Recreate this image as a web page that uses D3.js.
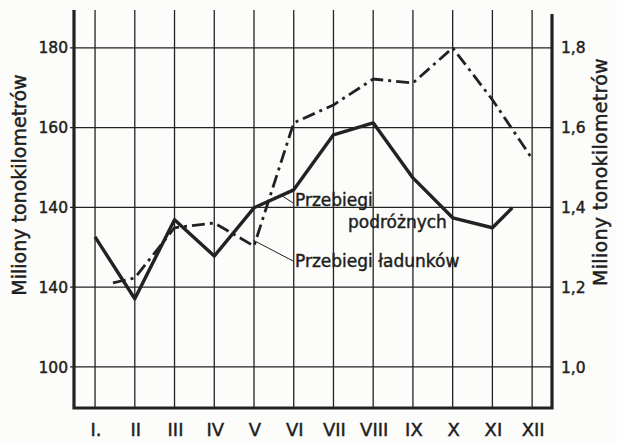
<!DOCTYPE html>
<html>
<head>
<meta charset="utf-8">
<script src="https://cdn.jsdelivr.net/npm/d3@7"></script>
<style>
  body { margin: 0; background: #fcfcfa; }
  svg { display: block; }
  text { font-family: "DejaVu Sans", sans-serif; fill: #1e1e1e; stroke: #1e1e1e; stroke-width: 0.45px; }
</style>
</head>
<body>
<div id="chart"></div>
<script>
// months (roman numerals) on the bottom
var months = ["I.", "II", "III", "IV", "V", "VI", "VII", "VIII", "IX", "X", "XI", "XII"];

// left axis ticks (the printed labels, including the misprint "140" for 120)
var leftTicks = [100, 120, 140, 160, 180];
var leftTickLabels = ["100", "140", "140", "160", "180"];
var rightTicks = [1.0, 1.2, 1.4, 1.6, 1.8];
var rightTickLabels = ["1,0", "1,2", "1,4", "1,6", "1,8"];

// Przebiegi podróżnych - solid line, left axis (line stops half way to XII)
var passMonths = [1, 2, 3, 4, 5, 6, 7, 8, 9, 10, 11, 11.5];
var passValues = [132.6, 117.1, 136.9, 127.8, 139.9, 144.4, 158.2, 161.2, 147.4, 137.4, 134.9, 139.9];

// Przebiegi ładunków - dash-dot line, right axis (starts between I and II)
var freightMonths = [1.45, 2, 3, 4, 5, 6, 7, 8, 9, 10, 11, 12];
var freightValues = [1.211, 1.223, 1.349, 1.361, 1.303, 1.612, 1.657, 1.722, 1.712, 1.80, 1.67, 1.522];

var W = 617, H = 442;
var plotTop = 10, plotBottom = 408, plotLeft = 74, plotRight = 552;

var svg = d3.select("#chart").append("svg")
    .attr("width", W)
    .attr("height", H);

var x = d3.scaleLinear().domain([0.47, 12.5]).range([plotLeft, plotRight]);
var yL = d3.scaleLinear().domain([89.7, 189.5]).range([plotBottom, plotTop]);
var yR = d3.scaleLinear().domain([0.897, 1.895]).range([plotBottom, plotTop]);

var ink = "#222";

// vertical grid lines at months
svg.append("g").selectAll("line")
    .data(d3.range(1, 13))
    .enter().append("line")
    .attr("x1", function (d) { return x(d); })
    .attr("x2", function (d) { return x(d); })
    .attr("y1", plotTop)
    .attr("y2", plotBottom)
    .attr("stroke", ink)
    .attr("stroke-width", 1.3);

// horizontal grid lines
svg.append("g").selectAll("line")
    .data(leftTicks)
    .enter().append("line")
    .attr("x1", plotLeft - 4)
    .attr("x2", plotRight)
    .attr("y1", function (d) { return yL(d); })
    .attr("y2", function (d) { return yL(d); })
    .attr("stroke", ink)
    .attr("stroke-width", 1.3);

// frame: left, right, bottom (heavy)
svg.append("path")
    .attr("d", "M" + plotLeft + "," + plotTop + "V" + plotBottom + "H" + plotRight + "V" + (plotTop + 4))
    .attr("fill", "none")
    .attr("stroke", ink)
    .attr("stroke-width", 3.2);

// left tick labels
svg.append("g").selectAll("text")
    .data(leftTicks)
    .enter().append("text")
    .attr("x", plotLeft - 6)
    .attr("y", function (d) { return yL(d); })
    .attr("dy", "0.36em")
    .attr("text-anchor", "end")
    .style("font-size", "15.5px")
    .text(function (d, i) { return leftTickLabels[i]; });

// right tick labels
svg.append("g").selectAll("text")
    .data(rightTicks)
    .enter().append("text")
    .attr("x", plotRight + 9)
    .attr("y", function (d) { return yR(d); })
    .attr("dy", "0.36em")
    .attr("text-anchor", "start")
    .style("font-size", "15.5px")
    .text(function (d, i) { return rightTickLabels[i]; });

// month labels
svg.append("g").selectAll("text")
    .data(months)
    .enter().append("text")
    .attr("x", function (d, i) { return x(i + 1) + 1; })
    .attr("y", 436)
    .attr("text-anchor", "middle")
    .style("font-size", "18px")
    .text(function (d) { return d; });

// axis titles
svg.append("text")
    .attr("transform", "translate(26,185) rotate(-90)")
    .attr("text-anchor", "middle")
    .style("font-size", "19px")
    .text("Miliony tonokilometrów");
svg.append("text")
    .attr("transform", "translate(607,172) rotate(-90)")
    .attr("text-anchor", "middle")
    .style("font-size", "19px")
    .style("letter-spacing", "0.3px")
    .text("Miliony tonokilometrów");

// series lines
var passLine = d3.line()
    .x(function (d, i) { return x(passMonths[i]); })
    .y(function (d) { return yL(d); });
var freightLine = d3.line()
    .x(function (d, i) { return x(freightMonths[i]); })
    .y(function (d) { return yR(d); });

svg.append("path")
    .datum(freightValues)
    .attr("d", freightLine)
    .attr("fill", "none")
    .attr("stroke", ink)
    .attr("stroke-width", 2.8)
    .attr("stroke-dasharray", "13,5,3,5");

svg.append("path")
    .datum(passValues)
    .attr("d", passLine)
    .attr("fill", "none")
    .attr("stroke", ink)
    .attr("stroke-width", 3.4)
    .attr("stroke-linejoin", "round");

// annotations with leader lines
svg.append("line")
    .attr("x1", 293).attr("y1", 203)
    .attr("x2", 281).attr("y2", 195)
    .attr("stroke", ink).attr("stroke-width", 1);
svg.append("text")
    .attr("x", 295).attr("y", 206)
    .style("font-size", "17px")
    .text("Przebiegi");
svg.append("text")
    .attr("x", 348).attr("y", 228)
    .style("font-size", "17px")
    .text("podróżnych");

svg.append("line")
    .attr("x1", 293).attr("y1", 261)
    .attr("x2", 253).attr("y2", 240)
    .attr("stroke", ink).attr("stroke-width", 1);
svg.append("text")
    .attr("x", 295).attr("y", 267)
    .style("font-size", "17px")
    .text("Przebiegi ładunków");
</script>
</body>
</html>
